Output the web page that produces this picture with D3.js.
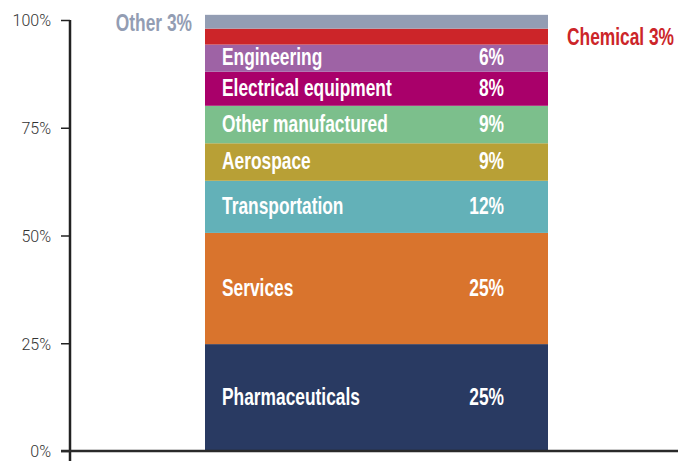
<script src="https://d3js.org/d3.v7.min.js"></script>

<style>
  body { margin: 0; background: #fff; }
  text { font-family: "Liberation Sans", Arial, sans-serif; }
</style>

<body>
  <svg id='svg'></svg>
</body>

<script>
  let width = 678;
  let height = 461;

  // bottom to top
  let sectors = ['Pharmaceuticals', 'Services', 'Transportation', 'Aerospace', 'Other manufactured',
    'Electrical equipment', 'Engineering', 'Chemical', 'Other'];
  let shares = [24.8, 25.8, 12.1, 8.7, 8.7, 7.9, 6.3, 3.7, 3.2];
  let shareLabels = ['25%', '25%', '12%', '9%', '9%', '8%', '6%', '3%', '3%'];
  let colors = ['#293a62', '#d9742d', '#63b1b8', '#b8a036', '#7cbf8c', '#a9006a', '#9e63a5', '#cc2529', '#939db3'];
  let yTicks = [0, 25, 50, 75, 100];

  let svg = d3.select('#svg')
    .attr('width', width)
    .attr('height', height);

  let y = d3.scaleLinear().domain([0, 100]).range([451, 20]);
  let x = d3.scaleBand().domain(['all']).range([205, 548]);

  // stack the shares
  let data = [];
  let acc = 0;
  sectors.forEach(function(s, i) {
    data.push({ name: s, value: shares[i], label: shareLabels[i], color: colors[i], y0: acc, y1: acc + shares[i] });
    acc += shares[i];
  });

  svg.selectAll('.seg')
    .data(data)
    .enter()
    .append('rect')
    .attr('class', 'seg')
    .attr('x', x('all'))
    .attr('width', x.bandwidth())
    .attr('y', d => y(d.y1))
    .attr('height', d => y(d.y0) - y(d.y1))
    .attr('fill', d => d.color);

  // axis
  let axis = svg.append('g')
    .attr('transform', 'translate(70,0)')
    .call(d3.axisLeft(y).tickValues(yTicks).tickSize(9).tickSizeOuter(0).tickFormat(d => d + '%'));
  axis.select('.domain').remove();
  axis.selectAll('.tick line').attr('stroke', '#222').attr('stroke-width', 1.5);
  axis.selectAll('.tick text')
    .attr('x', -19)
    .attr('dy', '0.36em')
    .attr('fill', '#333')
    .style('font-family', 'Roboto, "Liberation Sans", sans-serif')
    .style('font-weight', 300)
    .style('font-size', '16px');

  svg.append('line')
    .attr('x1', 70).attr('x2', 70)
    .attr('y1', y(100)).attr('y2', height)
    .attr('stroke', '#222').attr('stroke-width', 2.5);

  svg.append('line')
    .attr('x1', 61).attr('x2', width)
    .attr('y1', y(0)).attr('y2', y(0))
    .attr('stroke', '#2a2a2a').attr('stroke-width', 2.5);

  // labels (condensed look via horizontal squeeze)
  let sx = 0.755;
  function label(txt, px, py, anchor, fill) {
    svg.append('text')
      .attr('transform', 'translate(' + px + ',' + py + ') scale(' + sx + ',1)')
      .attr('text-anchor', anchor)
      .attr('fill', fill)
      .style('font-weight', 'bold')
      .style('font-size', '23px')
      .text(txt);
  }

  data.forEach(function(d) {
    let cy = (y(d.y0) + y(d.y1)) / 2 + 7;
    if (d.value > 5) {
      label(d.name, x('all') + 17, cy, 'start', '#fff');
      label(d.label, 504, cy, 'end', '#fff');
    } else if (d.name == 'Chemical') {
      label(d.name + ' ' + d.label, 567, cy + 1, 'start', d.color);
    } else {
      label(d.name + ' ' + d.label, 192, cy + 2, 'end', d.color);
    }
  });
</script>
